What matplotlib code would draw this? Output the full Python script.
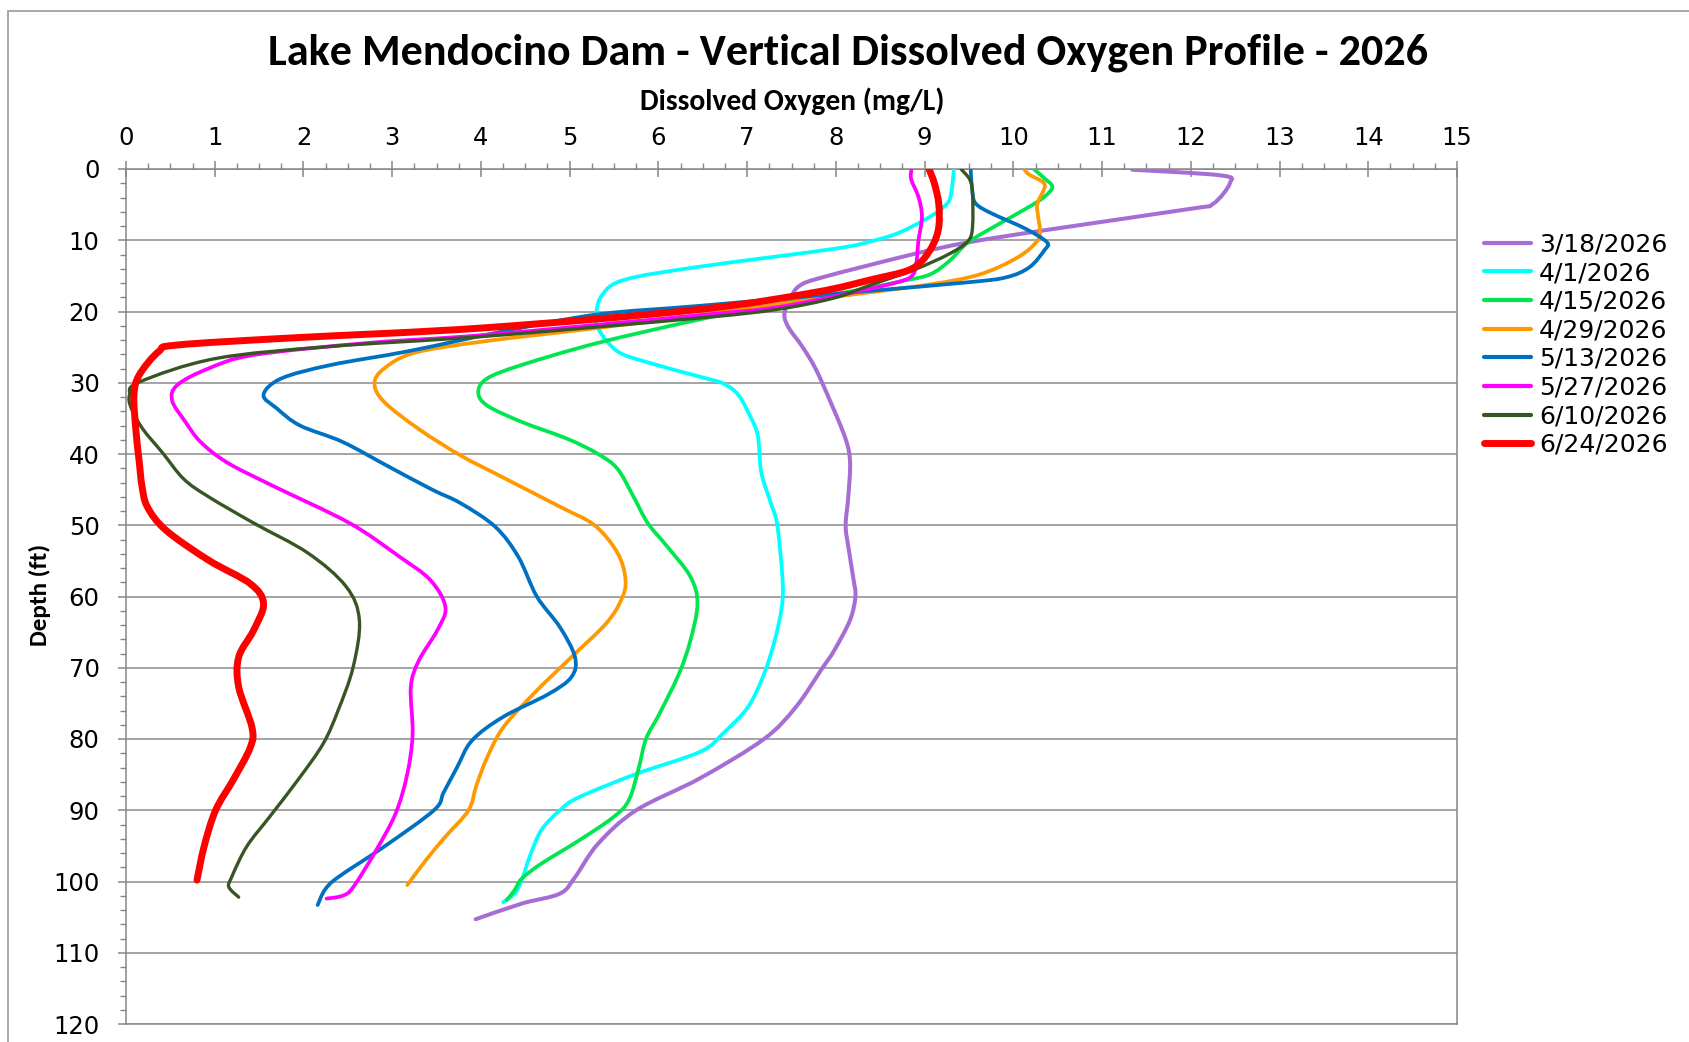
import matplotlib
matplotlib.use('Agg')
import numpy as np
import matplotlib.pyplot as plt
from matplotlib import font_manager
from matplotlib.lines import Line2D
from matplotlib.patches import Rectangle, PathPatch
from matplotlib.path import Path
from matplotlib.ticker import MultipleLocator

# --- data (DO mg/L vs depth ft) ---
dates = ['3/18/2026', '4/1/2026', '4/15/2026', '4/29/2026',
         '5/13/2026', '5/27/2026', '6/10/2026', '6/24/2026']

depth_0318 = [0.1, 0.9, 2.0, 4.9, 5.6, 8.6, 10.3, 11.9, 15.2, 16.4, 18.1, 20.4, 22.3, 24.9, 28.0,
              32.7, 37.9, 41.2, 46, 50, 53, 57.7, 60, 63.3, 67.6, 70, 75.5, 80, 85.5, 90, 94.7,
              99.4, 101.7, 103.1, 105.3]
do_0318 = [11.34, 12.34, 12.44, 12.25, 11.99, 10.35, 9.49, 8.89, 7.85, 7.59, 7.49, 7.42, 7.47, 7.62,
           7.77, 7.94, 8.11, 8.16, 8.14, 8.11, 8.14, 8.2, 8.22, 8.16, 7.98, 7.85, 7.55, 7.19, 6.47,
           5.75, 5.32, 5.06, 4.89, 4.46, 3.94]

depth_0401 = [0, 3.4, 4.9, 6.7, 8.9, 10.1, 11.2, 13.7, 15.5, 17.6, 20.4, 22.8, 25.6, 27.0, 29.2, 30.1,
              31.7, 34.6, 37.4, 42.6, 47, 50, 57.7, 61.5, 66.2, 70.9, 75.5, 79.2, 81.8, 84.9, 88.2,
              90, 92.8, 96.5, 99.8, 101.7, 102.9]
do_0401 = [9.33, 9.30, 9.25, 9.06, 8.72, 8.41, 7.98, 6.47, 5.63, 5.37, 5.30, 5.34, 5.54, 5.84, 6.48,
           6.73, 6.90, 7.03, 7.12, 7.16, 7.27, 7.34, 7.40, 7.39, 7.31, 7.19, 7.01, 6.73, 6.47, 5.75,
           5.10, 4.89, 4.68, 4.55, 4.46, 4.38, 4.25]

depth_0415 = [0, 1.3, 2.5, 3.9, 5.3, 7.7, 10.3, 12.9, 14.8, 15.7, 17.1, 19.0, 21.1, 24.4, 27.5, 29.4,
              31.3, 33.2, 35.5, 37.9, 40, 42.1, 46, 49.7, 53, 57.2, 61, 66.2, 70.9, 76.5, 80, 84,
              88.5, 90.9, 94.2, 97.5, 99.6, 101.2, 102.6]
do_0415 = [10.23, 10.35, 10.44, 10.35, 10.18, 9.84, 9.49, 9.28, 9.06, 8.76, 8.2, 7.34, 6.47, 5.32,
           4.46, 4.07, 3.97, 4.07, 4.46, 4.98, 5.32, 5.54, 5.72, 5.88, 6.10, 6.36, 6.44, 6.36, 6.23,
           6.01, 5.86, 5.78, 5.67, 5.50, 5.11, 4.68, 4.46, 4.38, 4.29]

depth_0429 = [0, 0.8, 1.8, 2.7, 4.9, 6.7, 8.6, 10.1, 12.4, 14.8, 16.2, 17.6, 19.0, 20.5, 22.3, 24.2,
              25.8, 28, 30.1, 32.7, 36.5, 40.2, 43.3, 47.4, 50, 53.9, 57.7, 60.5, 63.8, 68.5, 73.7,
              78.4, 82.6, 86.5, 90, 93.7, 97, 100.5]
do_0429 = [10.12, 10.18, 10.33, 10.35, 10.27, 10.28, 10.30, 10.27, 10.05, 9.62, 9.06, 8.2, 7.34,
           6.47, 5.32, 4.03, 3.25, 2.91, 2.80, 2.91, 3.30, 3.77, 4.25, 4.89, 5.28, 5.54, 5.63, 5.58,
           5.41, 5.02, 4.59, 4.25, 4.07, 3.95, 3.86, 3.60, 3.38, 3.17]

depth_0513 = [0.2, 3.4, 4.9, 6.2, 8.4, 10.3, 11.4, 13.8, 15.2, 15.9, 17.3, 19.2, 20.4, 22.8, 25.6,
              27.5, 29.4, 31.7, 33.6, 36, 38.3, 41.7, 45, 46.9, 50.2, 54.4, 60, 64.3, 68.5, 71.3,
              73.7, 76.9, 80.2, 84, 87.5, 90, 95.1, 99.4, 101.2, 103.3]
do_0513 = [9.52, 9.54, 9.58, 9.75, 10.14, 10.38, 10.35, 10.18, 9.92, 9.49, 8.2, 6.47, 5.32, 4.25,
           3.17, 2.31, 1.75, 1.55, 1.70, 1.96, 2.44, 2.95, 3.45, 3.77, 4.16, 4.42, 4.63, 4.89, 5.06,
           5.02, 4.76, 4.25, 3.90, 3.73, 3.58, 3.47, 2.91, 2.39, 2.24, 2.16]

depth_0527 = [0.2, 1.5, 3.9, 6.7, 10.1, 12.9, 14.8, 15.8, 17.3, 19.4, 20.5, 23.3, 24.4, 26.1, 28,
              30.3, 32.5, 35.5, 38.3, 41.2, 44.5, 49.7, 54.4, 57.7, 61.5, 64.7, 69, 72.7, 79.3, 84.9,
              90.4, 95.6, 100.8, 102, 102.4]
do_0527 = [8.85, 8.85, 8.93, 8.97, 8.93, 8.91, 8.87, 8.72, 8.2, 7.34, 6.48, 4.03, 2.74, 1.44, 0.93,
           0.58, 0.52, 0.67, 0.84, 1.14, 1.66, 2.52, 3.08, 3.43, 3.60, 3.51, 3.30, 3.21, 3.23, 3.17,
           3.04, 2.82, 2.56, 2.44, 2.26]

depth_0610 = [0, 1.5, 3.4, 8.1, 10.1, 11.9, 14.1, 16.2, 18.1, 19.7, 20.9, 23.5, 24.9, 26.6, 29.9,
              31.7, 33.6, 36.5, 39.8, 43.5, 46, 49.7, 53.9, 58.6, 63.3, 69.9, 76, 80.7, 85.7, 90.9,
              95.1, 99.4, 100.8, 102.2]
do_0610 = [9.41, 9.51, 9.54, 9.54, 9.49, 9.28, 8.89, 8.41, 7.98, 7.34, 6.47, 4.03, 2.31, 1.01, 0.15,
           0.04, 0.06, 0.19, 0.41, 0.65, 0.93, 1.44, 2.05, 2.48, 2.63, 2.56, 2.39, 2.22, 1.94, 1.62,
           1.36, 1.19, 1.16, 1.27]

depth_0624 = [0, 2, 4.9, 8.1, 10.5, 12.9, 14.3, 15.5, 17.3, 19.7, 22.3, 23.7, 24.7, 25.6, 28.9,
              31.7, 36.5, 41.2, 44.5, 47.4, 50.7, 54.9, 58.2, 61, 64.7, 68.5, 72.7, 78.4, 81.2, 85.7,
              90, 95.1, 99.8]
do_0624 = [9.05, 9.11, 9.16, 9.16, 9.10, 8.97, 8.80, 8.41, 7.77, 6.47, 4.03, 1.88, 0.58, 0.37, 0.15,
           0.09, 0.11, 0.15, 0.18, 0.24, 0.45, 0.93, 1.40, 1.55, 1.44, 1.27, 1.27, 1.42, 1.40, 1.21,
           1.01, 0.88, 0.80]

x_ticks = list(range(0, 16))
y_ticks = list(range(0, 121, 10))

series = [
    (do_0318, depth_0318, '#A66DD4', 2.9),
    (do_0401, depth_0401, '#00FFFF', 2.7),
    (do_0415, depth_0415, '#00E650', 2.7),
    (do_0429, depth_0429, '#FF9900', 2.7),
    (do_0513, depth_0513, '#0070C0', 2.7),
    (do_0527, depth_0527, '#FF00FF', 2.7),
    (do_0610, depth_0610, '#375623', 2.4),
    (do_0624, depth_0624, '#FF0000', 5.0),
]


def smooth_path(x, y):
    # Excel-style "smoothed line": cubic Bezier segments through the points
    p = np.column_stack([x, y]).astype(float)
    ext = np.vstack([p[0], p, p[-1]])
    verts = [p[0]]
    codes = [Path.MOVETO]
    for i in range(len(p) - 1):
        p0, p1, p2, p3 = ext[i], ext[i + 1], ext[i + 2], ext[i + 3]
        verts += [p1 + (p2 - p0) / 6.0, p2 - (p3 - p1) / 6.0, p2]
        codes += [Path.CURVE4] * 3
    return Path(verts, codes)


names = {f.name for f in font_manager.fontManager.ttflist}
NARROW = next((n for n in ['Carlito', 'Liberation Sans Narrow', 'Liberation Sans'] if n in names),
              'DejaVu Sans')

W, H = 1689, 1042
fig = plt.figure(figsize=(W / 100, H / 100), dpi=100)
fig.patch.set_facecolor('white')

# outer chart border (only top & left visible in the crop)
fig.patches.append(Rectangle((8 / W, -0.05), 1.2, 1.05 - 11 / H,
                             transform=fig.transFigure, fill=False,
                             edgecolor='#A0A0A0', lw=1.3, zorder=0))

ax = fig.add_axes([126 / W, 1 - 1024 / H, (1457 - 126) / W, (1024 - 169) / H])

handles = []
for (x, y, c, lw), lab in zip(series, dates):
    ax.add_patch(PathPatch(smooth_path(x, y), facecolor='none', edgecolor=c, lw=lw,
                           joinstyle='round', capstyle='round', zorder=3))
    handles.append(Line2D([], [], color=c, lw=max(lw, 3.0), label=lab, solid_capstyle='round'))

ax.set_xlim(0, 15)
ax.set_ylim(120, 0)
ax.xaxis.tick_top()
ax.set_xticks(x_ticks)
ax.set_yticks(y_ticks)
ax.xaxis.set_minor_locator(MultipleLocator(0.25))
ax.yaxis.set_minor_locator(MultipleLocator(2))

gray = '#868686'
for s in ax.spines.values():
    s.set_color(gray)
    s.set_linewidth(1.1)
ax.grid(axis='y', which='major', color='#8C8C8C', lw=1.1)
ax.set_axisbelow(True)

ax.tick_params(axis='x', which='major', direction='inout', length=11, width=1.1, color=gray,
               labelsize=17.5, pad=8.5, top=True, bottom=False)
ax.tick_params(axis='x', which='minor', direction='out', length=4, width=1.0, color=gray,
               top=True, bottom=False)
ax.tick_params(axis='y', which='major', direction='out', length=6, width=1.1, color=gray,
               labelsize=17.5, pad=13)
ax.tick_params(axis='y', which='minor', direction='out', length=4.5, width=1.0, color=gray)

title = fig.text(848 / W, 1 - 53 / H, 'Lake Mendocino Dam - Vertical Dissolved Oxygen Profile - 2026',
                 ha='center', va='center', fontsize=28, fontweight='bold', family=NARROW)
xlab = fig.text(792 / W, 1 - 101 / H, 'Dissolved Oxygen (mg/L)', ha='center', va='center',
                fontsize=20, fontweight='bold', family=NARROW)
ylab = fig.text(40 / W, 1 - 595 / H, 'Depth (ft)', ha='center', va='center', rotation=90,
                fontsize=20, fontweight='bold', family=NARROW)

# size the narrow-font labels to the widths seen in the reference
renderer = fig.canvas.get_renderer()
for t, target, vertical in [(title, 1160, False), (xlab, 305, False), (ylab, 102, True)]:
    bb = t.get_window_extent(renderer)
    size = bb.height if vertical else bb.width
    t.set_fontsize(t.get_fontsize() * target / size)

ax.legend(handles=handles, loc='upper left', bbox_to_anchor=(1471 / W, 1 - 220 / H),
          bbox_transform=fig.transFigure, frameon=False, fontsize=18,
          handlelength=1.9, handletextpad=0.32, labelspacing=0.185, borderpad=0)

fig.savefig('out.png', dpi=100)
